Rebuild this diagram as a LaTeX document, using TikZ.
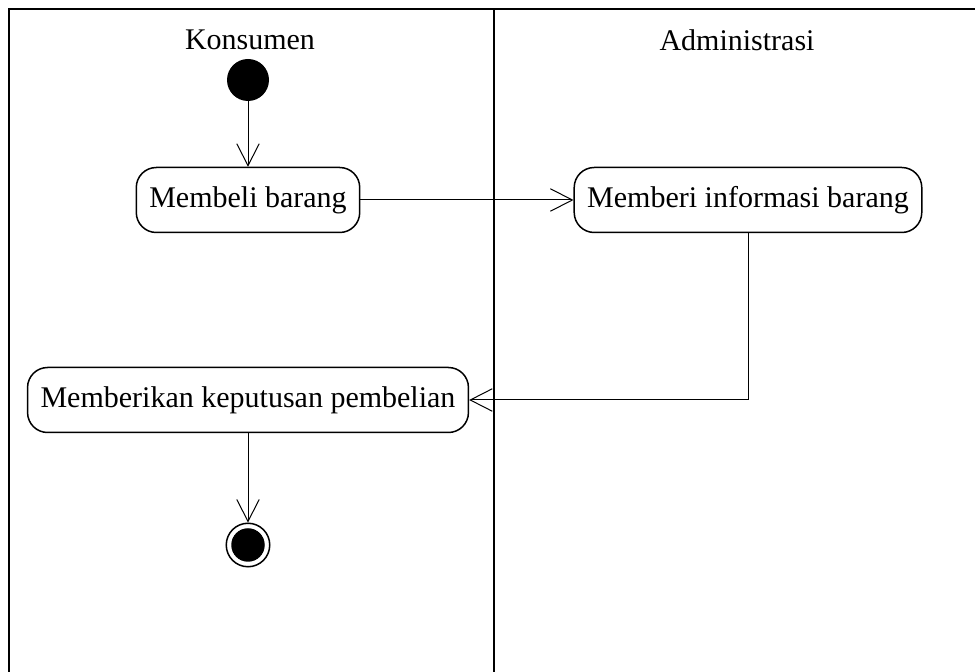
\documentclass[tikz,border=0pt]{standalone}
\usepackage{fontspec}
\setmainfont{Liberation Serif}
\usepackage{tikz}
\usetikzlibrary{arrows.meta}
\tikzstyle{lane}=[line width=1pt]
\tikzstyle{action}=[rectangle,rounded corners=8pt,draw,line width=0.6pt,minimum height=26pt,inner xsep=5.2pt,font=\fontsize{12pt}{14pt}\selectfont]
\tikzstyle{title}=[font=\fontsize{12pt}{14pt}\selectfont]
\tikzstyle{flow}=[line width=0.4pt,-{Straight Barb[length=8.8pt,width=9pt,line width=0.4pt]}]

\begin{document}
\begin{tikzpicture}[x=0.4pt,y=-0.4pt]
        \useasboundingbox (0,0) rectangle (975,672);
        % swimlanes
        \draw [lane] (9,680) -- (9,9) -- (985,9);
        \draw [lane] (494,9) -- (494,680);
        \node at (250,40) [title] (konsumen) {Konsumen};
        \node at (737,40) [title] (admin) {Administrasi};
        % states
        \node at (248,80) [circle,fill=black,inner sep=0pt,minimum size=16.8pt] (start) {};
        \node at (248,200) [action] (beli) {Membeli barang};
        \node at (748,200) [action] (info) {Memberi informasi barang};
        \node at (248,400) [action] (putus) {Memberikan keputusan pembelian};
        \node at (248,545) [circle,draw,line width=0.6pt,inner sep=0pt,minimum size=17.4pt] (final) {};
        \node at (248,545) [circle,fill=black,inner sep=0pt,minimum size=13.4pt] (finaldot) {};
        % transitions
        \draw [flow] (start) -- (beli);
        \draw [flow] (beli) -- (info);
        \draw [flow] (info) |- (putus);
        \draw [flow] (putus) -- (final);
      \end{tikzpicture}
\end{document}
